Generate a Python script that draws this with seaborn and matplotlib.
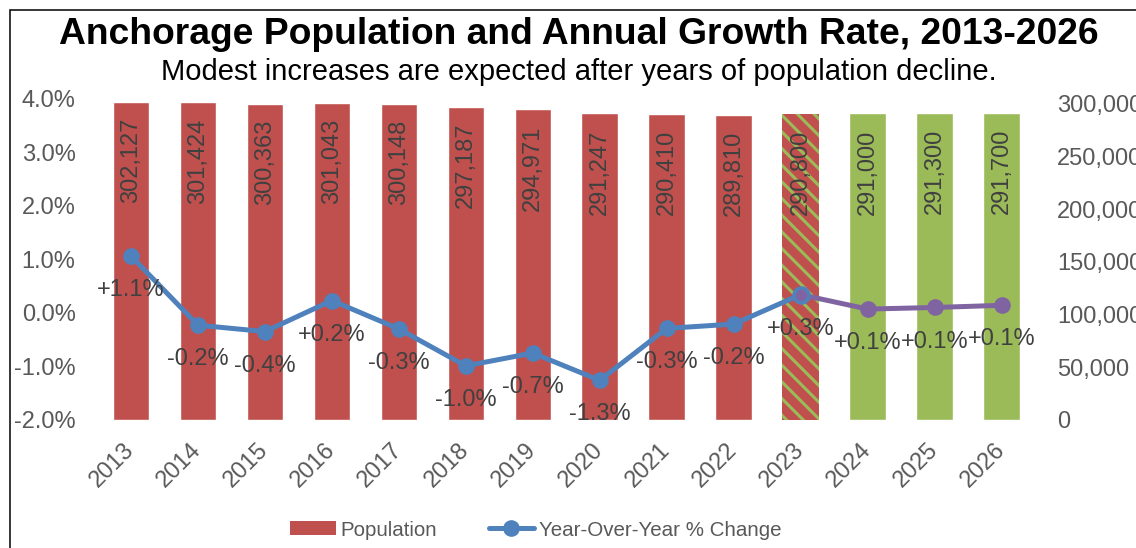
import numpy as np
import pandas as pd
import matplotlib
matplotlib.use("Agg")
import matplotlib.pyplot as plt
import seaborn as sns
from matplotlib.patches import Patch, Rectangle
from matplotlib.lines import Line2D
from matplotlib.ticker import FuncFormatter

# data
years = ['2013', '2014', '2015', '2016', '2017', '2018', '2019',
         '2020', '2021', '2022', '2023', '2024', '2025', '2026']
population = [302127, 301424, 300363, 301043, 300148, 297187, 294971,
              291247, 290410, 289810, 290800, 291000, 291300, 291700]
growth = [1.06, -0.23, -0.35, 0.23, -0.30, -0.99, -0.75,
          -1.26, -0.29, -0.21, 0.34, 0.07, 0.10, 0.14]
growth_labels = ['+1.1%', '-0.2%', '-0.4%', '+0.2%', '-0.3%', '-1.0%', '-0.7%',
                 '-1.3%', '-0.3%', '-0.2%', '+0.3%', '+0.1%', '+0.1%', '+0.1%']
n_actual = 10   # 2013-2022 actual, 2023 estimate, 2024+ forecast

RED = '#C0504D'
GREEN = '#9BBB59'
BLUE = '#4F81BD'
PURPLE = '#8064A2'
TICK_C = '#595959'
LAB_C = '#404040'

sns.set_style('white')
plt.rcParams['font.family'] = ['Liberation Sans', 'DejaVu Sans']
plt.rcParams['hatch.linewidth'] = 2.2
FS = 17

df = pd.DataFrame({'year': years, 'population': population, 'growth': growth})
df['pos'] = np.arange(len(df))
bar_colors = [RED] * (n_actual + 1) + [GREEN] * (len(years) - n_actual - 1)

fig = plt.figure(figsize=(11.36, 5.48), dpi=100)
ax = fig.add_axes([97.5 / 1136, 128 / 548, (1035 - 97.5) / 1136, (420 - 98.5) / 548])

sns.barplot(data=df, x='year', y='population', hue='year', palette=bar_colors,
            legend=False, saturation=1, width=0.545, ax=ax)

# 2023 estimate: red with green stripes
p23 = ax.patches[n_actual]
p23.set_hatch('\\\\')
p23.set_edgecolor(GREEN)
p23.set_linewidth(0)

for p, v in zip(ax.patches, population):
    ax.annotate(f'{v:,}', (p.get_x() + p.get_width() / 2, p.get_height()),
                xytext=(0, -11.5), textcoords='offset points', rotation=90,
                ha='center', va='top', fontsize=FS, color=LAB_C)

ax2 = ax.twinx()
hist = df.iloc[:n_actual + 1]
fcst = df.iloc[n_actual:]
sns.lineplot(data=hist, x='pos', y='growth', ax=ax2, color=BLUE, lw=3.6,
             marker='o', markersize=12, markeredgewidth=0)
sns.lineplot(data=fcst, x='pos', y='growth', ax=ax2, color=PURPLE, lw=3.6,
             marker='o', markersize=12, markeredgewidth=0, markevery=[1, 2, 3])
sns.scatterplot(data=df.iloc[[n_actual]], x='pos', y='growth', ax=ax2, s=115,
                color=PURPLE, edgecolor=BLUE, linewidth=2.6, zorder=5)

for x, y, t in zip(df['pos'], df['growth'], growth_labels):
    ax2.annotate(t, (x, y), xytext=(0, -24.5), textcoords='offset points',
                 ha='center', va='center', fontsize=FS, color=LAB_C)

# axes: population on the right, percent on the left
ax.yaxis.tick_right()
ax.set_ylim(0, 305200)
ax.set_yticks(range(0, 300001, 50000))
ax.yaxis.set_major_formatter(FuncFormatter(lambda v, _: f'{v:,.0f}'))
ax2.yaxis.tick_left()
ax2.set_ylim(-2, 4)
ax2.set_yticks(range(-2, 5))
ax2.yaxis.set_major_formatter(FuncFormatter(lambda v, _: f'{v:.1f}%'))
ax.set_xlim(-0.5, len(years) - 0.5)

for a in (ax, ax2):
    for s in a.spines.values():
        s.set_visible(False)
    a.set_xlabel('')
    a.set_ylabel('')
    a.tick_params(axis='y', length=0, pad=15.8, labelsize=FS, labelcolor=TICK_C)

ax.tick_params(axis='x', length=0, pad=19, labelsize=FS, labelcolor=TICK_C)
for lab in ax.get_xticklabels():
    lab.set_rotation(45)
    lab.set_ha('right')
    lab.set_va('center')
    lab.set_rotation_mode('anchor')

fig.text(0.5097, 1 - 35 / 548, 'Anchorage Population and Annual Growth Rate, 2013-2026',
         ha='center', va='center', fontsize=26.8, fontweight='bold', color='black')
fig.text(0.5097, 1 - 72 / 548, 'Modest increases are expected after years of population decline.',
         ha='center', va='center', fontsize=21, color='black')

handles = [Patch(facecolor=RED, edgecolor='none'),
           Line2D([], [], color=BLUE, lw=3.6, marker='o', markersize=12, markeredgewidth=0)]
fig.legend(handles, ['Population', 'Year-Over-Year % Change'], loc='center',
           bbox_to_anchor=(536 / 1136, 18 / 548), ncol=2, frameon=False,
           fontsize=14.8, labelcolor=TICK_C, handlelength=2.2, handleheight=0.65,
           handletextpad=0.25, columnspacing=2.5)

# chart border (cropped on the right and bottom)
fig.add_artist(Rectangle((10 / 1136, -0.1), 1.2, 538 / 548 + 0.1,
                         transform=fig.transFigure, fill=False,
                         edgecolor='black', lw=1.1))

fig.savefig('out.png', dpi=100)
